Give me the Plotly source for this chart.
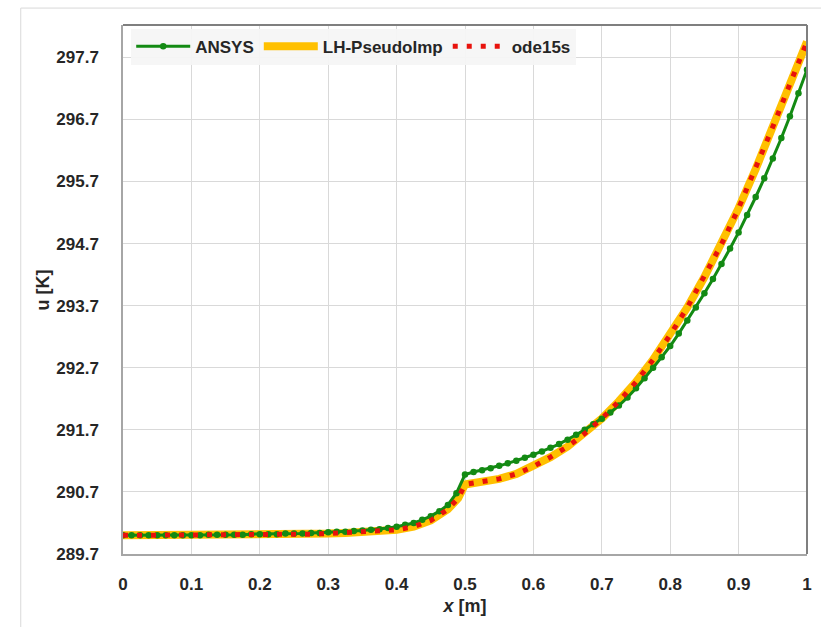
import plotly.graph_objects as go

# ---------------- data ----------------
ansys_x = [round(i * 0.0125, 4) for i in range(81)]
ansys_u = [290.00, 290.00, 290.00, 290.00, 290.00, 290.00, 290.00, 290.00, 290.00, 290.00,
           290.01, 290.01, 290.01, 290.01, 290.01, 290.02, 290.02, 290.02, 290.02, 290.03,
           290.03, 290.03, 290.04, 290.04, 290.05, 290.06, 290.06, 290.07, 290.08, 290.09,
           290.10, 290.12, 290.14, 290.17, 290.20, 290.25, 290.31, 290.39, 290.49, 290.68,
           290.98, 291.02, 291.05, 291.08, 291.12, 291.16, 291.20, 291.25, 291.30, 291.35,
           291.41, 291.47, 291.54, 291.62, 291.70, 291.79, 291.88, 291.98, 292.09, 292.22,
           292.37, 292.53, 292.70, 292.87, 293.05, 293.25, 293.46, 293.67, 293.90, 294.13,
           294.37, 294.62, 294.88, 295.16, 295.45, 295.75, 296.07, 296.40, 296.75, 297.12,
           297.50]

lh_x = [0.0, 0.025, 0.05, 0.075, 0.1, 0.125, 0.15, 0.175, 0.2, 0.225, 0.25, 0.275, 0.3,
        0.325, 0.35, 0.375, 0.4, 0.425, 0.45, 0.475, 0.49, 0.5, 0.525, 0.55, 0.575, 0.6,
        0.625, 0.65, 0.675, 0.7, 0.725, 0.75, 0.775, 0.8, 0.825, 0.85, 0.875, 0.9, 0.925,
        0.95, 0.975, 1.0]
lh_u = [290.00, 290.00, 290.00, 290.00, 290.00, 290.00, 290.00, 290.01, 290.01, 290.01,
        290.02, 290.02, 290.03, 290.04, 290.05, 290.07, 290.09, 290.14, 290.24, 290.42,
        290.60, 290.82, 290.86, 290.91, 290.99, 291.11, 291.26, 291.43, 291.64, 291.88,
        292.16, 292.47, 292.83, 293.23, 293.67, 294.16, 294.69, 295.27, 295.90, 296.58,
        297.27, 297.95]

ode_x = list(lh_x)
ode_u = list(lh_u)

x_ticks = [0, 0.1, 0.2, 0.3, 0.4, 0.5, 0.6, 0.7, 0.8, 0.9, 1]
x_tick_labels = ["0", "0.1", "0.2", "0.3", "0.4", "0.5", "0.6", "0.7", "0.8", "0.9", "1"]
y_ticks = [289.7, 290.7, 291.7, 292.7, 293.7, 294.7, 295.7, 296.7, 297.7]
y_tick_labels = ["289.7", "290.7", "291.7", "292.7", "293.7", "294.7", "295.7", "296.7", "297.7"]

# ---------------- figure ----------------
FONT = "Liberation Sans, Arial, sans-serif"
TXT = "#262626"

fig = go.Figure()

fig.add_trace(go.Scatter(
    x=lh_x, y=lh_u, mode="lines", name="LH-PseudoImp",
    line=dict(color="#FFC000", width=8), legendrank=2))

fig.add_trace(go.Scatter(
    x=ansys_x, y=ansys_u, mode="lines+markers", name="ANSYS",
    line=dict(color="#138A13", width=3),
    marker=dict(color="#138A13", size=6.5, symbol="circle"), legendrank=1))

fig.add_trace(go.Scatter(
    x=ode_x, y=ode_u, mode="lines", name="ode15s",
    line=dict(color="#E8120C", width=5, dash="5px,9px"), legendrank=3))

fig.update_layout(
    width=821, height=627,
    margin=dict(l=123, r=9, t=25, b=73),
    paper_bgcolor="white", plot_bgcolor="white",
    font=dict(family=FONT, size=17, color=TXT),
    showlegend=True,
    legend=dict(
        orientation="h", x=0.012, y=0.993, xanchor="left", yanchor="top",
        bgcolor="rgba(246,246,246,0.95)", itemwidth=54,
        font=dict(family=FONT, size=17, color=TXT, weight="bold"),
        traceorder="normal", tracegroupgap=0,
    ),
    xaxis=dict(
        range=[0, 1], tickmode="array", tickvals=x_ticks, ticktext=x_tick_labels,
        showgrid=True, gridcolor="#D9D9D9", gridwidth=1,
        showline=True, linecolor="#A6A6A6", linewidth=1.5, mirror=False,
        zeroline=False, ticks="", ticklabelstandoff=14,
        tickfont=dict(family=FONT, size=17, color=TXT, weight="bold"),
        title=dict(text="<i>x</i> [m]", standoff=6,
                   font=dict(family=FONT, size=18, color=TXT, weight="bold")),
    ),
    yaxis=dict(
        range=[289.7, 298.22], tickmode="array", tickvals=y_ticks, ticktext=y_tick_labels,
        showgrid=True, gridcolor="#D9D9D9", gridwidth=1,
        showline=True, linecolor="#A6A6A6", linewidth=1.5, mirror=False,
        zeroline=False, ticks="", ticklabelstandoff=19,
        tickfont=dict(family=FONT, size=17, color=TXT, weight="bold"),
    ),
    annotations=[
        dict(text="u [K]", xref="paper", yref="paper", x=-0.117, y=0.5,
             xanchor="center", yanchor="middle", textangle=-90, showarrow=False,
             font=dict(family=FONT, size=18, color=TXT, weight="bold")),
    ],
    shapes=[
        dict(type="line", xref="paper", yref="paper", x0=0, x1=1, y0=1, y1=1,
             line=dict(color="#7F7F7F", width=2), layer="above"),
        dict(type="line", xref="paper", yref="paper", x0=1, x1=1, y0=0, y1=1,
             line=dict(color="#7F7F7F", width=2), layer="above"),
        dict(type="rect", xref="paper", yref="paper", x0=-0.1495, x1=1.05,
             y0=-0.2, y1=1.032, line=dict(color="#D9D9D9", width=1),
             fillcolor="rgba(0,0,0,0)", layer="below"),
    ],
)

fig.write_html("out.html")
